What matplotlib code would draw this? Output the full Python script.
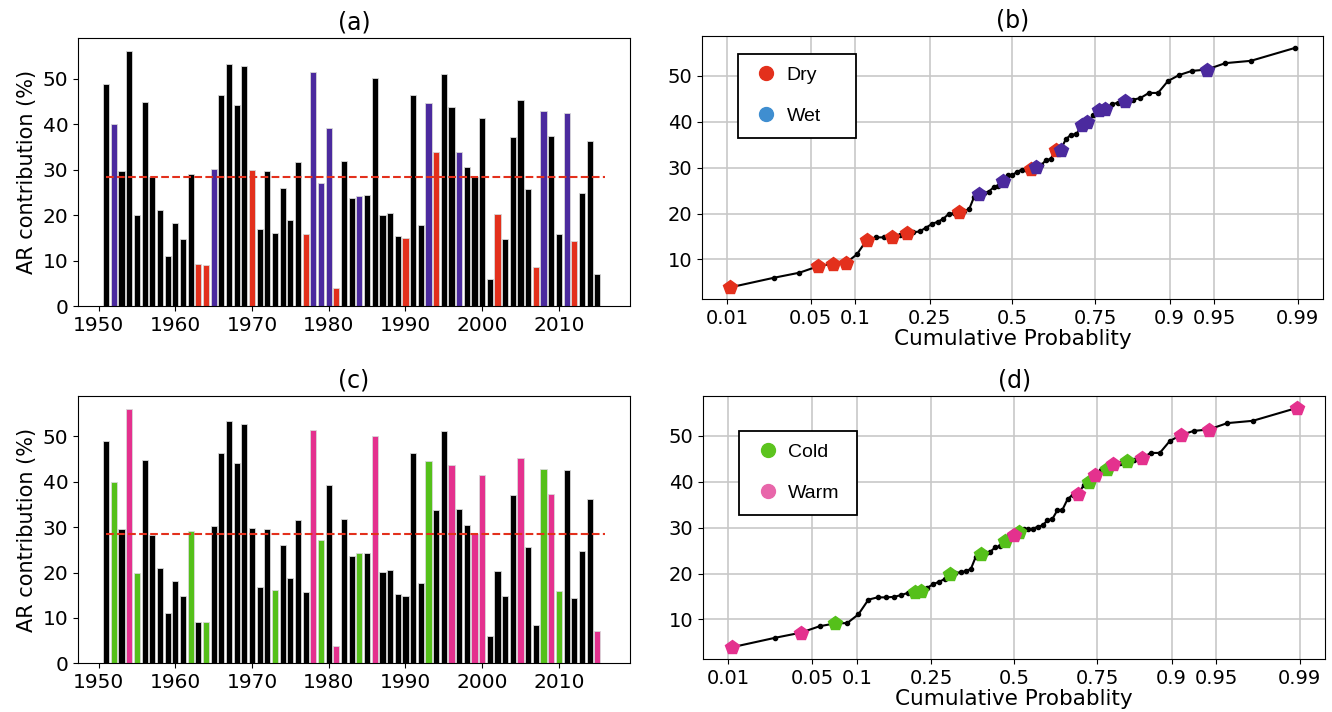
from statistics import NormalDist
import numpy as np
import matplotlib
matplotlib.use("Agg")
import matplotlib.pyplot as plt
from matplotlib.lines import Line2D

years = list(range(1951, 2016))
ar_pct = [48.9, 39.9, 29.6, 56.1, 19.9, 44.8, 28.3, 21.0, 11.1, 18.2,
          14.8, 29.1, 9.2, 9.1, 30.2, 46.3, 53.3, 44.2, 52.8, 29.8,
          16.9, 29.6, 16.1, 26.0, 18.8, 31.6, 15.8, 51.4, 27.1, 39.2,
          3.9, 31.9, 23.7, 24.2, 24.4, 50.2, 20.1, 20.5, 15.3, 14.9,
          46.3, 17.7, 44.6, 33.8, 51.1, 43.8, 33.9, 30.5, 28.4, 41.4,
          6.0, 20.3, 14.8, 37.2, 45.2, 25.7, 8.5, 42.9, 37.3, 15.9,
          42.5, 14.3, 24.8, 36.2, 7.1]

dry_years = [1963, 1964, 1970, 1977, 1981, 1990, 1994, 2002, 2007, 2012]
wet_years = [1952, 1965, 1978, 1979, 1980, 1984, 1993, 1997, 2008, 2011]
cold_years = [1952, 1955, 1962, 1964, 1973, 1979, 1984, 1993, 2008, 2010]
warm_years = [1954, 1978, 1981, 1986, 1996, 1999, 2000, 2005, 2009, 2015]

prob_ticks = [0.01, 0.05, 0.1, 0.25, 0.5, 0.75, 0.9, 0.95, 0.99]
prob_labels = ['0.01', '0.05', '0.1', '0.25', '0.5', '0.75', '0.9', '0.95', '0.99']

red = '#e3301c'
purple = '#4b2a9e'
green = '#55c01a'
pink = '#e4318e'

years = np.array(years)
vals = np.array(ar_pct)
med = np.median(vals)

# plotting positions on a normal probability axis
nd = NormalDist()
n = len(vals)
order = np.argsort(vals, kind='stable')
sorted_vals = vals[order]
sorted_years = years[order]
pp = (np.arange(1, n + 1) - 0.3) / (n + 0.4)
xq = np.array([nd.inv_cdf(p) for p in pp])

fig = plt.figure(figsize=(13.32, 7.12), dpi=100)
ax_a = fig.add_axes([0.0586, 0.5702, 0.4144, 0.3764])
ax_b = fig.add_axes([0.527, 0.5796, 0.4662, 0.3698])
ax_c = fig.add_axes([0.0586, 0.0684, 0.4144, 0.3754])
ax_d = fig.add_axes([0.528, 0.0740, 0.4667, 0.3698])


def bar_panel(ax, groups, title):
    colors = []
    for y in years:
        c = 'black'
        for yrs, col in groups:
            if y in yrs:
                c = col
        colors.append(c)
    ax.bar(years, vals, width=0.8, color=colors, edgecolor='#d8d8d8', linewidth=0.6)
    ax.hlines(med, years[0], years[-1] + 1, colors=red, linestyles='--', linewidth=1.5)
    ax.set_ylabel('AR contribution (%)', fontsize=15)
    ax.set_title(title, fontsize=17)
    ax.tick_params(labelsize=14.5)


def prob_panel(ax, groups, legend_items, title, leg_top):
    ax.plot(xq, sorted_vals, '-', color='black', marker='.', markersize=6, linewidth=1.5, zorder=3)
    for yrs, col in groups:
        m = np.isin(sorted_years, yrs)
        ax.plot(xq[m], sorted_vals[m], 'p', color=col, markersize=10.5, linestyle='none', zorder=4)
    ax.set_xticks([nd.inv_cdf(p) for p in prob_ticks])
    ax.set_xticklabels(prob_labels)
    ax.grid(True, color='#c8c8c8', linewidth=1.2)
    ax.set_axisbelow(True)
    ax.tick_params(labelsize=14)
    ax.set_title(title, fontsize=17)
    ax.set_xlabel('Cumulative Probablity', fontsize=15.5, labelpad=1)
    handles = [Line2D([], [], marker='o', color=c, linestyle='none', markersize=10)
               for c, _ in legend_items]
    leg = ax.legend(handles, [l for _, l in legend_items], loc='upper left',
                    bbox_to_anchor=(0.058, leg_top - 0.4, 0.19, 0.4), mode='expand',
                    borderaxespad=0, fancybox=False, framealpha=1,
                    edgecolor='black', labelspacing=1.2, borderpad=0.65,
                    handlelength=1.6, handletextpad=0.25,
                    prop={'family': 'Liberation Sans', 'size': 14})
    leg.get_frame().set_linewidth(1.3)


bar_panel(ax_a, [(dry_years, red), (wet_years, purple)], '(a)')
bar_panel(ax_c, [(cold_years, green), (warm_years, pink)], '(c)')
prob_panel(ax_b, [(dry_years, red), (wet_years, purple)],
           [(red, 'Dry'), ('#3f8ed0', 'Wet')], '(b)', 0.9316)
prob_panel(ax_d, [(cold_years, green), (warm_years, pink)],
           [('#5cc41e', 'Cold'), ('#e866aa', 'Warm')], '(d)', 0.868)

fig.savefig('out.png', dpi=100)
